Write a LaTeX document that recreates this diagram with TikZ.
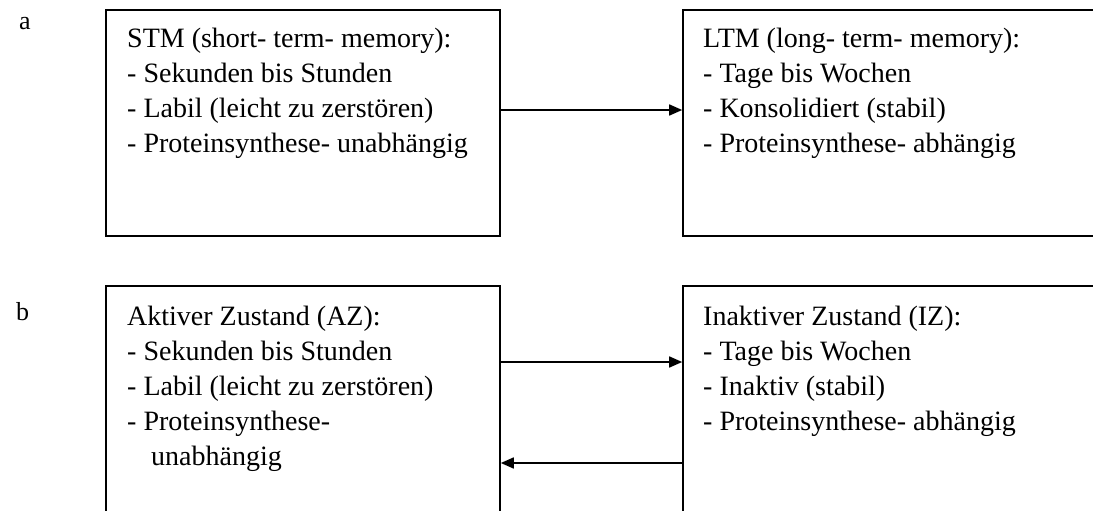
\documentclass[tikz,border=0pt]{standalone}
\usepackage{fontspec}
\setmainfont{Liberation Serif}
\usetikzlibrary{arrows.meta}
\begin{document}
\begin{tikzpicture}[x=1pt,y=-1pt,
  box/.style={draw,line width=1.6pt,inner sep=0pt},
  txt/.style={anchor=north west,inner sep=0pt,align=left,font=\fontsize{28}{35}\selectfont},
  lab/.style={anchor=base west,inner sep=0pt,font=\fontsize{26}{30}\selectfont},
  arr/.style={line width=1.6pt,-{Triangle[length=13pt,width=11pt]}}]
\path[use as bounding box] (0,0) rectangle (1093,511);
\clip (0,0) rectangle (1093,511);
\fill[white] (0,0) rectangle (1093,511);
% panel a
\node[lab] (la) at (19,30) {a};
\node[box,minimum width=394pt,minimum height=226pt] (stm) at (303,123) {};
\node[box,minimum width=427pt,minimum height=226pt] (ltm) at (896.5,123) {};
\node[txt] (stmt) at (127,28) {STM (short- term- memory):\\- Sekunden bis Stunden\\- Labil (leicht zu zerstören)\\- Proteinsynthese- unabhängig};
\node[txt] (ltmt) at (703,28) {LTM (long- term- memory):\\- Tage bis Wochen\\- Konsolidiert (stabil)\\- Proteinsynthese- abhängig};
\coordinate (ya) at (0,110);
\draw[arr] (stm.east |- ya) -- (ltm.west |- ya);
% panel b
\node[lab] (lb) at (16,320) {b};
\node[box,minimum width=394pt,minimum height=244pt] (az) at (303,408) {};
\node[box,minimum width=427pt,minimum height=244pt] (iz) at (896.5,408) {};
\node[txt] (azt) at (127,306) {Aktiver Zustand (AZ):\\- Sekunden bis Stunden\\- Labil (leicht zu zerstören)\\- Proteinsynthese-\\\hspace*{24pt}unabhängig};
\node[txt] (izt) at (703,306) {Inaktiver Zustand (IZ):\\- Tage bis Wochen\\- Inaktiv (stabil)\\- Proteinsynthese- abhängig};
\coordinate (yb1) at (0,362);
\coordinate (yb2) at (0,463);
\draw[arr] (az.east |- yb1) -- (iz.west |- yb1);
\draw[arr] (iz.west |- yb2) -- (az.east |- yb2);
\end{tikzpicture}
\end{document}
